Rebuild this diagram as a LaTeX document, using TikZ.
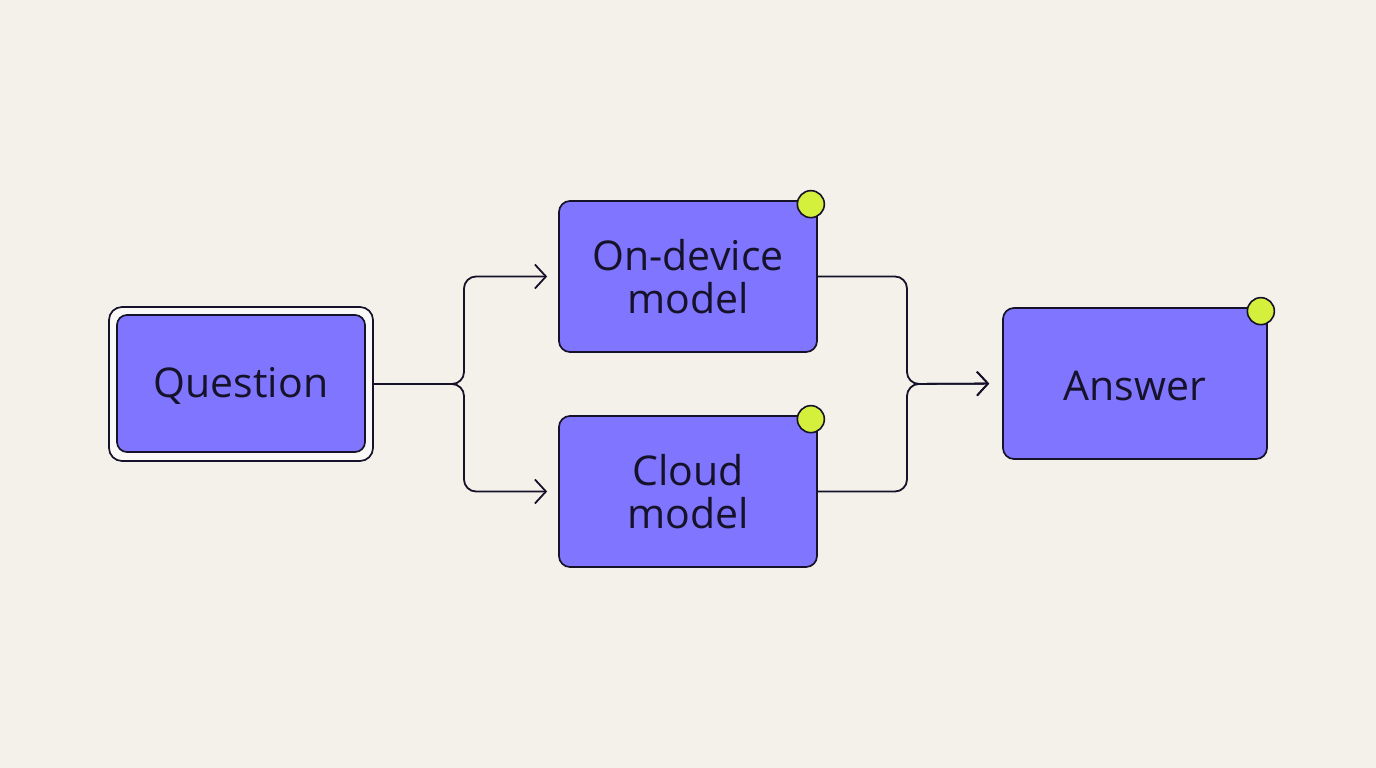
\documentclass[tikz,border=0pt]{standalone}
\usepackage{fontspec}
\setmainfont{Open Sans}
\usetikzlibrary{arrows.meta}
\definecolor{bg}{HTML}{F4F1EA}
\definecolor{boxfill}{HTML}{8075FE}
\definecolor{ink}{HTML}{15122A}
\definecolor{lime}{HTML}{D4F03C}
\tikzset{
  box/.style={draw=ink, line width=1.7pt, fill=boxfill, rounded corners=11pt,
    minimum width=258pt, minimum height=151pt, align=center,
    font=\fontsize{41}{43}\selectfont, text=ink, inner sep=0pt},
  dot/.style={circle, draw=ink, line width=1.6pt, fill=lime, minimum size=27pt, inner sep=0pt},
  conn/.style={draw=ink, line width=1.8pt, rounded corners=12pt},
  arr/.style={conn, -{Straight Barb[length=11pt,width=24pt,line width=1.8pt]}}
}
\begin{document}
\begin{tikzpicture}[x=1pt,y=-1pt]
\fill[bg] (0,0) rectangle (1376,768);
\useasboundingbox (0,0) rectangle (1376,768);
% Question
\node[draw=ink, line width=1.7pt, fill=white!60!bg, rounded corners=13pt,
  minimum width=264pt, minimum height=154pt] (qo) at (241,384) {};
\node[box, minimum width=248pt, minimum height=137pt, rounded corners=10pt] (q) at (241,383.5) {};
\node[font=\fontsize{41}{43}\selectfont, text=ink] (qt) at (241,386) {Question};
% models
\node[box] (od) at (688,276.5) {On-device\\model};
\node[box] (cl) at (688,491.5) {Cloud\\model};
\node[box, minimum width=264pt] (a) at (1135,383.5) {};
\node[font=\fontsize{41}{43}\selectfont, text=ink] (at) at (1135,386) {Answer};
% dots
\node[dot] (d1) at ([xshift=-7pt,yshift=-4pt]od.north east) {};
\node[dot] (d2) at ([xshift=-7pt,yshift=-4pt]cl.north east) {};
\node[dot] (d3) at ([xshift=-7pt,yshift=-4pt]a.north east) {};
% connectors
\coordinate (split) at (464,384);
\coordinate (merge) at (907,384);
\draw[arr, shorten >=11pt] (qo.east) -- (split) |- (od.west);
\draw[arr, shorten >=11pt] (qo.east) -- (split) |- (cl.west);
\draw[arr, shorten >=13pt] (od.east) -| (merge) -- (a.west);
\draw[arr, shorten >=13pt] (cl.east) -| (merge) -- (a.west);
\end{tikzpicture}
\end{document}
